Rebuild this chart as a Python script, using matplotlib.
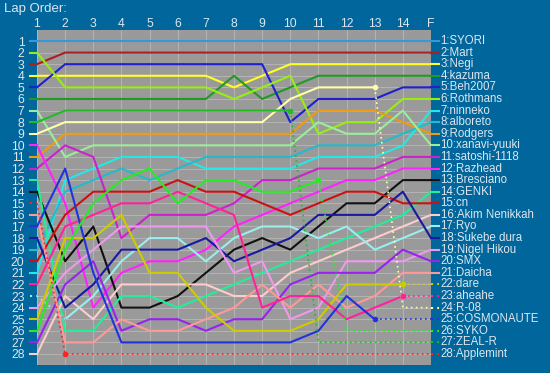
"""Lap chart: running order of every driver lap by lap"""

import matplotlib.pyplot as plt

plt.rcParams['font.family'] = ['Liberation Sans', 'DejaVu Sans']

BG = '#00669c'
PANEL = '#9a9a9a'
TXT = '#dde6ee'

laps = [str(i) for i in range(1, 15)] + ['F']

# final classification (label order on the right)
drivers = ['SYORI', 'Mart', 'Negi', 'kazuma', 'Beh2007', 'Rothmans', 'ninneko',
           'alboreto', 'Rodgers', 'xanavi-yuuki', 'satoshi-1118', 'Razhead',
           'Bresciano', 'GENKI', 'cn', 'Akim Nenikkah', 'Ryo', 'Sukebe dura',
           'Nigel Hikou', 'SMX', 'Daicha', 'dare', 'aheahe', 'R-08',
           'COSMONAUTE', 'SYKO', 'ZEAL-R', 'Applemint']

colors = ['#3399dd', '#aa2020', '#ffff22', '#229922', '#2020cc', '#99ee11',
          '#22e8e8', '#22bbcc', '#ee9911', '#99ee99', '#cc22cc', '#ff22ff',
          '#111111', '#22ee99', '#cc1111', '#ffcccc', '#99eeee', '#1a1aa0',
          '#ee99ee', '#9922ee', '#ff9999', '#cccc00', '#ff2299', '#ffffaa',
          '#2233dd', '#22ee22', '#22bb22', '#ff2222']

# position of each driver at laps 1..14 and F
order = [
    [1, 1, 1, 1, 1, 1, 1, 1, 1, 1, 1, 1, 1, 1, 1],
    [3, 2, 2, 2, 2, 2, 2, 2, 2, 2, 2, 2, 2, 2, 2],
    [4, 4, 4, 4, 4, 4, 4, 5, 4, 3, 3, 3, 3, 3, 3],
    [6, 6, 6, 6, 6, 6, 6, 4, 6, 5, 4, 4, 4, 4, 4],
    [5, 3, 3, 3, 3, 3, 3, 3, 3, 8, 6, 6, 6, 5, 5],
    [2, 5, 5, 5, 5, 5, 5, 6, 5, 4, 9, 8, 8, 6, 6],
    [21, 13, 12, 11, 11, 11, 12, 12, 12, 12, 11, 11, 11, 10, 7],
    [19, 14, 13, 12, 13, 12, 11, 11, 11, 11, 10, 10, 10, 9, 8],
    [11, 9, 9, 9, 9, 9, 9, 9, 9, 9, 7, 7, 7, 8, 9],
    [7, 11, 10, 10, 10, 10, 10, 10, 10, 10, 8, 9, 9, 7, 10],
    [12, 10, 11, 18, 16, 16, 16, 15, 13, 13, 12, 12, 12, 11, 11],
    [10, 15, 24, 21, 20, 20, 19, 17, 16, 15, 14, 13, 13, 12, 12],
    [14, 20, 17, 24, 24, 23, 21, 19, 18, 19, 17, 15, 15, 13, 13],
    [13, 26, 26, 23, 23, 24, 23, 22, 21, 20, 19, 18, 17, 16, 14],
    [20, 16, 14, 14, 14, 13, 14, 14, 15, 16, 15, 14, 14, 15, 15],
    [28, 23, 25, 22, 22, 22, 22, 23, 23, 21, 20, 19, 18, 17, 16],
    [23, 25, 23, 20, 18, 18, 20, 18, 17, 17, 18, 17, 19, 18, 17],
    [18, 24, 22, 19, 19, 19, 18, 20, 19, 18, 16, 16, 16, 14, 18],
    [24, 21, 19, 17, 17, 17, 17, 21, 20, 25, 24, 20, 20, 20, 19],
    [27, 22, 20, 26, 25, 25, 26, 25, 25, 22, 21, 21, 21, 19, 20],
    [16, 27, 27, 25, 26, 26, 25, 24, 22, 24, 22, 24, 23, 21, 21],
    [25, 18, 18, 16, 21, 21, 24, 26, 26, 26, 25, 22, 22, 22, 22],
    [22, 17, 16, 15, 15, 14, 15, 16, 24, 23, 23, 25, 24, 23, 23],
    [9, 8, 8, 8, 8, 8, 8, 8, 8, 6, 5, 5, 5, 24, 24],
    [17, 12, 21, 27, 27, 27, 27, 27, 27, 27, 26, 23, 25, 25, 25],
    [26, 19, 15, 13, 12, 15, 13, 13, 14, 14, 13, 26, 26, 26, 26],
    [8, 7, 7, 7, 7, 7, 7, 7, 7, 7, 27, 27, 27, 27, 27],
    [15, 28, 28, 28, 28, 28, 28, 28, 28, 28, 28, 28, 28, 28, 28],
]

# lap index where the line turns dotted (retirement), and where the dot sits
dotted_from = {'dare': 13, 'aheahe': 13, 'R-08': 12, 'COSMONAUTE': 12,
               'SYKO': 10, 'ZEAL-R': 9, 'Applemint': 0}
dot_at = {'dare': 13, 'aheahe': 13, 'R-08': 12, 'COSMONAUTE': 12,
          'SYKO': 10, 'ZEAL-R': 9, 'Applemint': 1}
DOTS = (0, (1, 2))

fig = plt.figure(figsize=(5.5, 3.73), dpi=100, facecolor=BG)
ax = fig.add_axes([37 / 550, 1 - 365 / 373, 394 / 550, 335 / 373])
ax.set_facecolor(PANEL)

x = list(range(1, len(laps) + 1))

ax.set_xlim(1, len(laps))
ax.set_ylim(28.95, 0.05)
for p in range(1, 29):
    ax.axhline(p, color='#b8b8b8', lw=0.6, zorder=1)
for k in x:
    ax.axvline(k, color='#b8b8b8', lw=0.6, zorder=1)

for name, col, pos in zip(drivers, colors, order):
    k = dotted_from.get(name)
    if k is None:
        ax.plot(x, pos, color=col, lw=1.5, zorder=3)
    else:
        ax.plot(x[:k + 1], pos[:k + 1], color=col, lw=1.5, zorder=3)
        ax.plot(x[k:], pos[k:], color=col, lw=1.2, ls=DOTS, zorder=3)
        d = dot_at[name]
        ax.plot(x[d], pos[d], 'o', color=col, ms=3, zorder=4)
    # Ryo's opening lap is drawn dotted
    start_ls = '-'
    if name == 'Ryo':
        ax.plot(x[:2], pos[:2], color=PANEL, lw=1.6, zorder=3)
        ax.plot(x[:2], pos[:2], color=col, lw=1.2, ls=DOTS, zorder=3)
        start_ls = DOTS
    if k == 0:
        start_ls = DOTS

    # short stubs outside the panel: start on the left, finish on the right
    ax.plot([0.75, 1], [pos[0], pos[0]], color=col, lw=1.5, ls=start_ls,
            clip_on=False)
    end_ls = '-' if k is None else DOTS
    ax.plot([x[-1], x[-1] + 0.3], [pos[-1], pos[-1]], color=col, lw=1.5,
            ls=end_ls, clip_on=False)
    ax.text(x[-1] + 0.34, pos[-1], f'{pos[-1]}:{name}', color=TXT,
            fontsize=8.3, va='center', ha='left', clip_on=False)

ax.set_xticks(x)
ax.set_xticklabels(laps)
ax.set_yticks(range(1, 29))
ax.xaxis.tick_top()
ax.tick_params(axis='x', length=0, pad=0, labelsize=8.8, colors=TXT)
ax.tick_params(axis='y', length=0, pad=9, labelsize=8.8, colors=TXT)
for s in ax.spines.values():
    s.set_visible(False)

fig.text(4 / 550, 1 - 9 / 373, 'Lap Order:', color=TXT, fontsize=9.5,
         va='center', ha='left')

fig.savefig('out.png', dpi=100, facecolor=BG)
